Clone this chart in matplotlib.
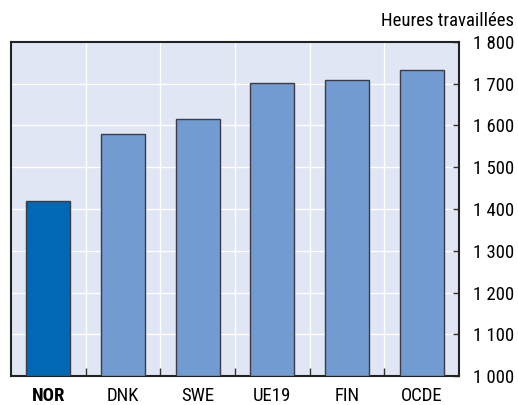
import numpy as np
from matplotlib import pyplot as plt
from matplotlib import font_manager

# police étroite si disponible
police = 'Roboto'
for nom in ['Liberation Sans Narrow', 'Roboto Condensed', 'DejaVu Sans Condensed',
            'Open Sans Condensed', 'Noto Sans Condensed']:
    try:
        font_manager.findfont(nom, fallback_to_default=False)
        police = nom
        break
    except ValueError:
        pass
plt.rcParams['font.family'] = [police, 'DejaVu Sans']

pays = ["NOR", "DNK", "SWE", "UE19", "FIN", "OCDE"]
heures = [1419, 1579, 1615, 1702, 1709, 1733]
couleurs = ["#0068B4", "#729BD1", "#729BD1", "#729BD1", "#729BD1", "#729BD1"]
yticks = [1000, 1100, 1200, 1300, 1400, 1500, 1600, 1700, 1800]

fig = plt.figure(figsize=(5.18, 4.05), dpi=100, facecolor='w')
ax = fig.add_axes([0.0212, 0.0716, 0.8649, 0.8247])
ax.set_facecolor('#E0E6F3')

x = np.arange(len(pays))
ax.bar(x, np.array(heures) - 1000, bottom=1000, width=0.59, color=couleurs,
       edgecolor='#3c3c46', linewidth=1.0, zorder=3)

ax.set_xlim(-0.5, len(pays) - 0.5)
ax.set_ylim(1000, 1800)

# grille blanche
for yv in yticks[1:-1]:
    ax.axhline(yv, color='white', lw=1.0, zorder=1)
for xv in x[:-1] + 0.5:
    ax.axvline(xv, color='white', lw=1.0, zorder=1)

fs = 13.5 if police != 'Roboto' else 10.5
ax.yaxis.tick_right()
ax.set_yticks(yticks)
ax.set_yticklabels([f"{v:,}".replace(",", " ") for v in yticks], fontsize=fs)
ax.tick_params(axis='y', direction='in', length=4, width=1, color='#333333',
               pad=10, right=True, left=False)

ax.set_xticks(x)
ax.set_xticklabels(pays, fontsize=fs)
ax.tick_params(axis='x', length=0, pad=8)
ax.get_xticklabels()[0].set_fontweight('bold')
ax.set_xticks(x[:-1] + 0.5, minor=True)
ax.tick_params(axis='x', which='minor', direction='in', length=6, width=1,
               color='#333333')

for s in ax.spines.values():
    s.set_linewidth(1.5)
    s.set_color('#222222')

fig.text(0.992, 0.948, "Heures travaillées", ha='right', va='center', fontsize=fs)

fig.savefig('out.png', dpi=100)
